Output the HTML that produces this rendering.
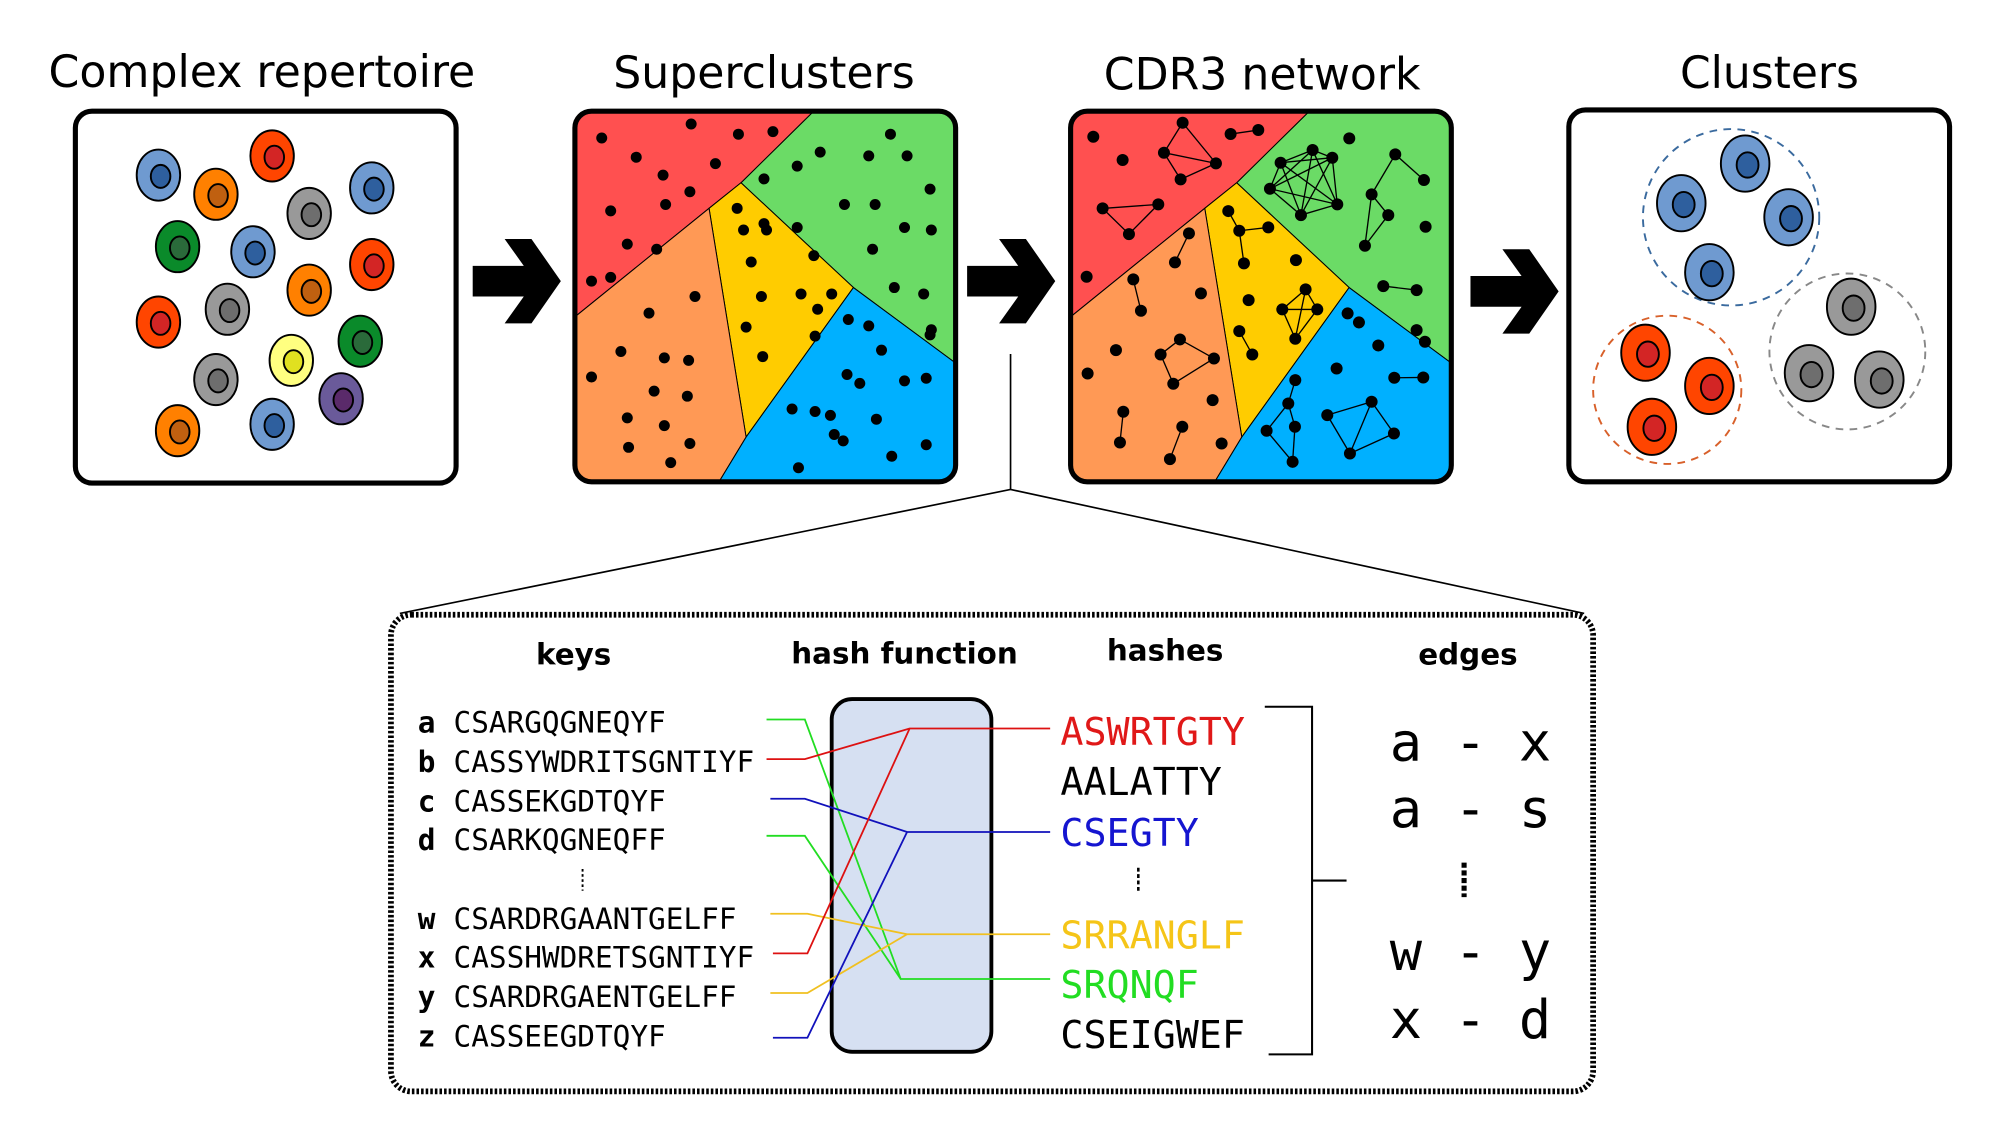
<!DOCTYPE html>
<html><head><meta charset="utf-8"><style>
html,body{margin:0;padding:0;background:#fff;}
svg{display:block;}
</style></head><body>
<svg width="1993" height="1140" viewBox="0 0 1560 892" preserveAspectRatio="none" xmlns="http://www.w3.org/2000/svg">
<g font-family="'DejaVu Sans','Liberation Sans',sans-serif" font-size="35" text-anchor="middle" fill="#000">
<text x="205" y="68" textLength="334" lengthAdjust="spacingAndGlyphs">Complex repertoire</text>
<text x="598" y="69" textLength="236" lengthAdjust="spacingAndGlyphs">Superclusters</text>
<text x="988" y="70" textLength="248" lengthAdjust="spacingAndGlyphs">CDR3 network</text>
<text x="1385" y="69" textLength="140" lengthAdjust="spacingAndGlyphs">Clusters</text>
</g>

<g fill="#000">
<polygon points="370,208 410,208 395,187 416,187 439,220 416,253 395,253 410,232 370,232"/>
<polygon points="757,208 797,208 782,187 803,187 826,220 803,253 782,253 797,232 757,232"/>
<polygon points="1151,216 1191,216 1176,195 1197,195 1220,228 1197,261 1176,261 1191,240 1151,240"/>
</g>

<g>
<rect x="59" y="87" width="298" height="291" rx="13" fill="#fff" stroke="#000" stroke-width="4"/>
<g stroke="#000" stroke-width="1.5" id="cells1"></g>
</g>

<g>
<clipPath id="c2"><rect x="450" y="87" width="298" height="290" rx="13"/></clipPath>
<g clip-path="url(#c2)" stroke="#000" stroke-width="0.8">
<polygon fill="#6bdb66" points="644,80 760,80 760,293 668,225 580,143"/>
<polygon fill="#ff5050" points="440,80 644,80 580,143 555,163 440,256"/>
<polygon fill="#ffcc00" points="580,143 668,225 584,342 555,163"/>
<polygon fill="#ff9955" points="440,256 555,163 584,342 561,380 440,380"/>
<polygon fill="#00b0ff" points="668,225 760,293 760,380 561,380 584,342"/>
</g>
<g id="dots2" fill="#000"></g>
<rect x="450" y="87" width="298" height="290" rx="13" fill="none" stroke="#000" stroke-width="4"/>
</g>

<g>
<clipPath id="c3"><rect x="838" y="87" width="298" height="290" rx="13"/></clipPath>
<g clip-path="url(#c3)" stroke="#000" stroke-width="0.8">
<polygon fill="#6bdb66" points="1032,80 1148,80 1148,293 1056,225 968,143"/>
<polygon fill="#ff5050" points="828,80 1032,80 968,143 943,163 828,256"/>
<polygon fill="#ffcc00" points="968,143 1056,225 972,342 943,163"/>
<polygon fill="#ff9955" points="828,256 943,163 972,342 949,380 828,380"/>
<polygon fill="#00b0ff" points="1056,225 1148,293 1148,380 949,380 972,342"/>
</g>
<g id="net3" transform="scale(0.78271) translate(1060,100) scale(0.33333)"></g>
<rect x="838" y="87" width="298" height="290" rx="13" fill="none" stroke="#000" stroke-width="4"/>
</g>

<g>
<rect x="1228" y="86" width="298" height="291" rx="13" fill="#fff" stroke="#000" stroke-width="4"/>
<circle cx="1355" cy="170" r="69" fill="none" stroke="#3a6a9e" stroke-width="1.5" stroke-dasharray="6,5"/>
<circle cx="1446" cy="275" r="61" fill="none" stroke="#888" stroke-width="1.5" stroke-dasharray="6,5"/>
<circle cx="1305" cy="305" r="58" fill="none" stroke="#d8602a" stroke-width="1.5" stroke-dasharray="6,5"/>
<g stroke="#000" stroke-width="1.5" id="cells4"></g>
</g>

<g stroke="#000" stroke-width="1.3" fill="none">
<polyline points="791,277 791,383"/>
<polyline points="313,480 791,383 1240,480"/>
</g>

<g>
<rect x="306" y="481" width="941" height="373" rx="16" fill="#fff" stroke="#000" stroke-width="4.5" stroke-dasharray="2,1.6"/>
<g font-family="'DejaVu Sans','Liberation Sans',sans-serif" font-weight="bold" font-size="23" text-anchor="middle">
<text x="449" y="520">keys</text>
<text x="708" y="519">hash function</text>
<text x="912" y="517">hashes</text>
<text x="1149" y="520">edges</text>
</g>
<rect x="651" y="547" width="125" height="276" rx="16" fill="#d6e0f2" stroke="#000" stroke-width="3"/>
<g fill="none" stroke-width="1.4">
<polyline stroke="#22dd22" points="600,563 630,563 705,766 822,766"/>
<polyline stroke="#dd1111" points="600,594 630,594 712,570 822,570"/>
<polyline stroke="#1111bb" points="603,625 630,625 710,651 822,651"/>
<polyline stroke="#22dd22" points="600,654 630,654 705,766"/>
<polyline stroke="#f0c020" points="603,715 632,715 710,731 822,731"/>
<polyline stroke="#dd1111" points="605,746 632,746 712,570"/>
<polyline stroke="#f0c020" points="603,777 632,777 710,731"/>
<polyline stroke="#1111bb" points="605,812 632,812 710,651"/>
</g>
<g font-family="'DejaVu Sans Mono','Liberation Mono',monospace" font-size="23">
<g font-weight="bold">
<text x="327" y="573">a</text><text x="327" y="604">b</text><text x="327" y="635">c</text><text x="327" y="665">d</text>
<text x="327" y="727">w</text><text x="327" y="757">x</text><text x="327" y="788">y</text><text x="327" y="819">z</text>
</g>
<text x="355" y="573">CSARGQGNEQYF</text>
<text x="355" y="604">CASSYWDRITSGNTIYF</text>
<text x="355" y="635">CASSEKGDTQYF</text>
<text x="355" y="665">CSARKQGNEQFF</text>
<text x="355" y="727">CSARDRGAANTGELFF</text>
<text x="355" y="757">CASSHWDRETSGNTIYF</text>
<text x="355" y="788">CSARDRGAENTGELFF</text>
<text x="355" y="819">CASSEEGDTQYF</text>
</g>
<line x1="456" y1="680" x2="456" y2="697" stroke="#000" stroke-width="1.5" stroke-dasharray="2,2"/>
<g font-family="'DejaVu Sans Mono','Liberation Mono',monospace" font-size="30">
<text x="830" y="583" fill="#e01818">ASWRTGTY</text>
<text x="830" y="622" fill="#000">AALATTY</text>
<text x="830" y="662" fill="#1515d0">CSEGTY</text>
<text x="830" y="742" fill="#f5c518">SRRANGLF</text>
<text x="830" y="781" fill="#22dd22">SRQNQF</text>
<text x="830" y="820" fill="#000">CSEIGWEF</text>
</g>
<line x1="891" y1="679" x2="891" y2="699" stroke="#000" stroke-width="2" stroke-dasharray="3,2"/>
<polyline points="990,553 1027,553 1027,825 993,825" fill="none" stroke="#000" stroke-width="1.6"/>
<line x1="1027" y1="689" x2="1054" y2="689" stroke="#000" stroke-width="1.6"/>
<g font-family="'DejaVu Sans Mono','Liberation Mono',monospace" font-size="42" text-anchor="middle">
<text x="1151" y="595">a - x</text>
<text x="1151" y="647">a - s</text>
<text x="1151" y="759">w - y</text>
<text x="1151" y="812">x - d</text>
</g>
<line x1="1146" y1="675" x2="1146" y2="702" stroke="#000" stroke-width="4" stroke-dasharray="4,2"/>
</g>

<script>
var NS='http://www.w3.org/2000/svg';
var col={b:['#6f9ad0','#2e5f9e'],o:['#ff8000','#c06010'],r:['#ff4500','#d32525'],g:['#999','#6e6e6e'],G:['#0a8a2a','#2a6a3a'],y:['#ffff80','#e0e020'],p:['#6a5a9a','#5a2a6a']};
var cells1=[[124,137,'b'],[169,152,'o'],[213,122,'r'],[291,147,'b'],[242,167,'g'],[139,193,'G'],[198,197,'b'],[291,207,'r'],[242,227,'o'],[124,252,'r'],[178,242,'g'],[282,267,'G'],[228,282,'y'],[169,297,'g'],[267,312,'p'],[139,337,'o'],[213,332,'b']];
var cells4=[[1366,128,'b'],[1316,159,'b'],[1400,170,'b'],[1338,213,'b'],[1449,240,'g'],[1416,292,'g'],[1471,297,'g'],[1288,276,'r'],[1338,302,'r'],[1293,334,'r']];
function drawCells(id,list,rx,ry){
  var g=document.getElementById(id);
  list.forEach(function(c){
    var e=document.createElementNS(NS,'ellipse');
    e.setAttribute('cx',c[0]);e.setAttribute('cy',c[1]);e.setAttribute('rx',rx);e.setAttribute('ry',ry);e.setAttribute('fill',col[c[2]][0]);
    
    
    g.appendChild(e);
    var n=document.createElementNS(NS,'ellipse');
    n.setAttribute('cx',c[0]+rx*0.1);n.setAttribute('cy',c[1]+ry*0.05);n.setAttribute('rx',rx*0.45);n.setAttribute('ry',ry*0.45);n.setAttribute('fill',col[c[2]][1]);
    
    
    g.appendChild(n);
  });
}
drawCells('cells1',cells1,17,20);
drawCells('cells4',cells4,19,22);

var dots2=[[471,108],[541,97],[578,105],[605,103],[498,123],[519,137],[560,128],[540,150],[478,165],[521,160],[491,191],[463,220],
[642,119],[624,130],[697,105],[680,122],[710,122],[598,140],[728,148],[598,175],[661,160],[685,160],[624,178],[708,178],[729,180],[683,195],[700,225],[723,230],[729,258],[728,262],
[577,163],[582,180],[600,180],[588,205],[637,200],[596,232],[627,230],[651,230],[640,242],[584,256],[638,263],[597,279],
[508,245],[544,232],[486,275],[520,280],[463,295],[539,282],[512,306],[538,310],[491,327],[520,333],[492,350],[540,347],[525,362],[478,217],[514,195],
[664,250],[680,255],[690,274],[663,293],[673,300],[725,296],[708,298],[650,325],[653,340],[686,328],[620,320],[638,322],[660,345],[725,348],[625,366],[698,357]];
var g2=document.getElementById('dots2');
dots2.forEach(function(d){
  var c=document.createElementNS(NS,'circle');
  c.setAttribute('cx',d[0]);c.setAttribute('cy',d[1]);c.setAttribute('r',4.3);
  
  
  g2.appendChild(c);
});

var nodes=[[100,110],[188,180],[368,68],[312,158],[468,190],[362,238],[512,102],[595,90],[128,325],[295,313],[207,402],[80,530],
[868,115],[662,188],[758,150],[817,173],[630,266],[832,313],[723,345],[1006,163],[1092,240],[935,283],[985,345],[915,437],[1097,380],[970,558],[1070,570],[1070,690],[1095,725],
[505,333],[538,392],[625,382],[552,490],[708,480],[566,600],[737,568],[667,628],[772,628],[706,716],[538,693],[577,763],
[387,400],[345,487],[220,538],[243,632],[423,580],[168,750],[83,820],[360,718],[302,763],[462,775],[340,851],[458,900],[190,935],[180,1027],[367,980],[330,1077],[485,1030],
[863,640],[897,667],[955,736],[830,805],[1003,833],[1090,832],[706,840],[685,910],[705,980],[620,992],[698,1085],[802,945],[935,905],[1002,1000],[870,1060]];
var links=[[2,3],[2,4],[3,4],[3,5],[5,4],[6,7],[8,9],[8,10],[9,10],
[13,14],[13,15],[13,16],[13,17],[13,18],[14,15],[14,16],[14,17],[14,18],[15,16],[15,17],[15,18],[16,17],[16,18],[17,18],
[19,20],[19,21],[21,22],[22,23],[21,23],[25,26],
[29,30],[30,31],[30,32],[35,36],[35,37],[36,37],[36,38],[37,38],[35,38],[39,40],
[41,42],[43,44],[48,49],[48,50],[49,51],[50,51],[53,54],[55,56],
[62,63],[64,65],[65,66],[65,67],[67,68],[66,68],[69,70],[70,71],[71,72],[69,72],[70,72]];
var g3=document.getElementById('net3');
links.forEach(function(l){
  var a=nodes[l[0]],b=nodes[l[1]];
  var ln=document.createElementNS(NS,'line');
  ln.setAttribute('x1',a[0]);ln.setAttribute('y1',a[1]);ln.setAttribute('x2',b[0]);ln.setAttribute('y2',b[1]);
  ln.setAttribute('stroke','#000');ln.setAttribute('stroke-width',4);
  
  
  g3.appendChild(ln);
});
nodes.forEach(function(n){
  var c=document.createElementNS(NS,'circle');
  c.setAttribute('cx',n[0]);c.setAttribute('cy',n[1]);c.setAttribute('r',18);
  
  
  g3.appendChild(c);
});
</script>
</svg>
</body></html>
